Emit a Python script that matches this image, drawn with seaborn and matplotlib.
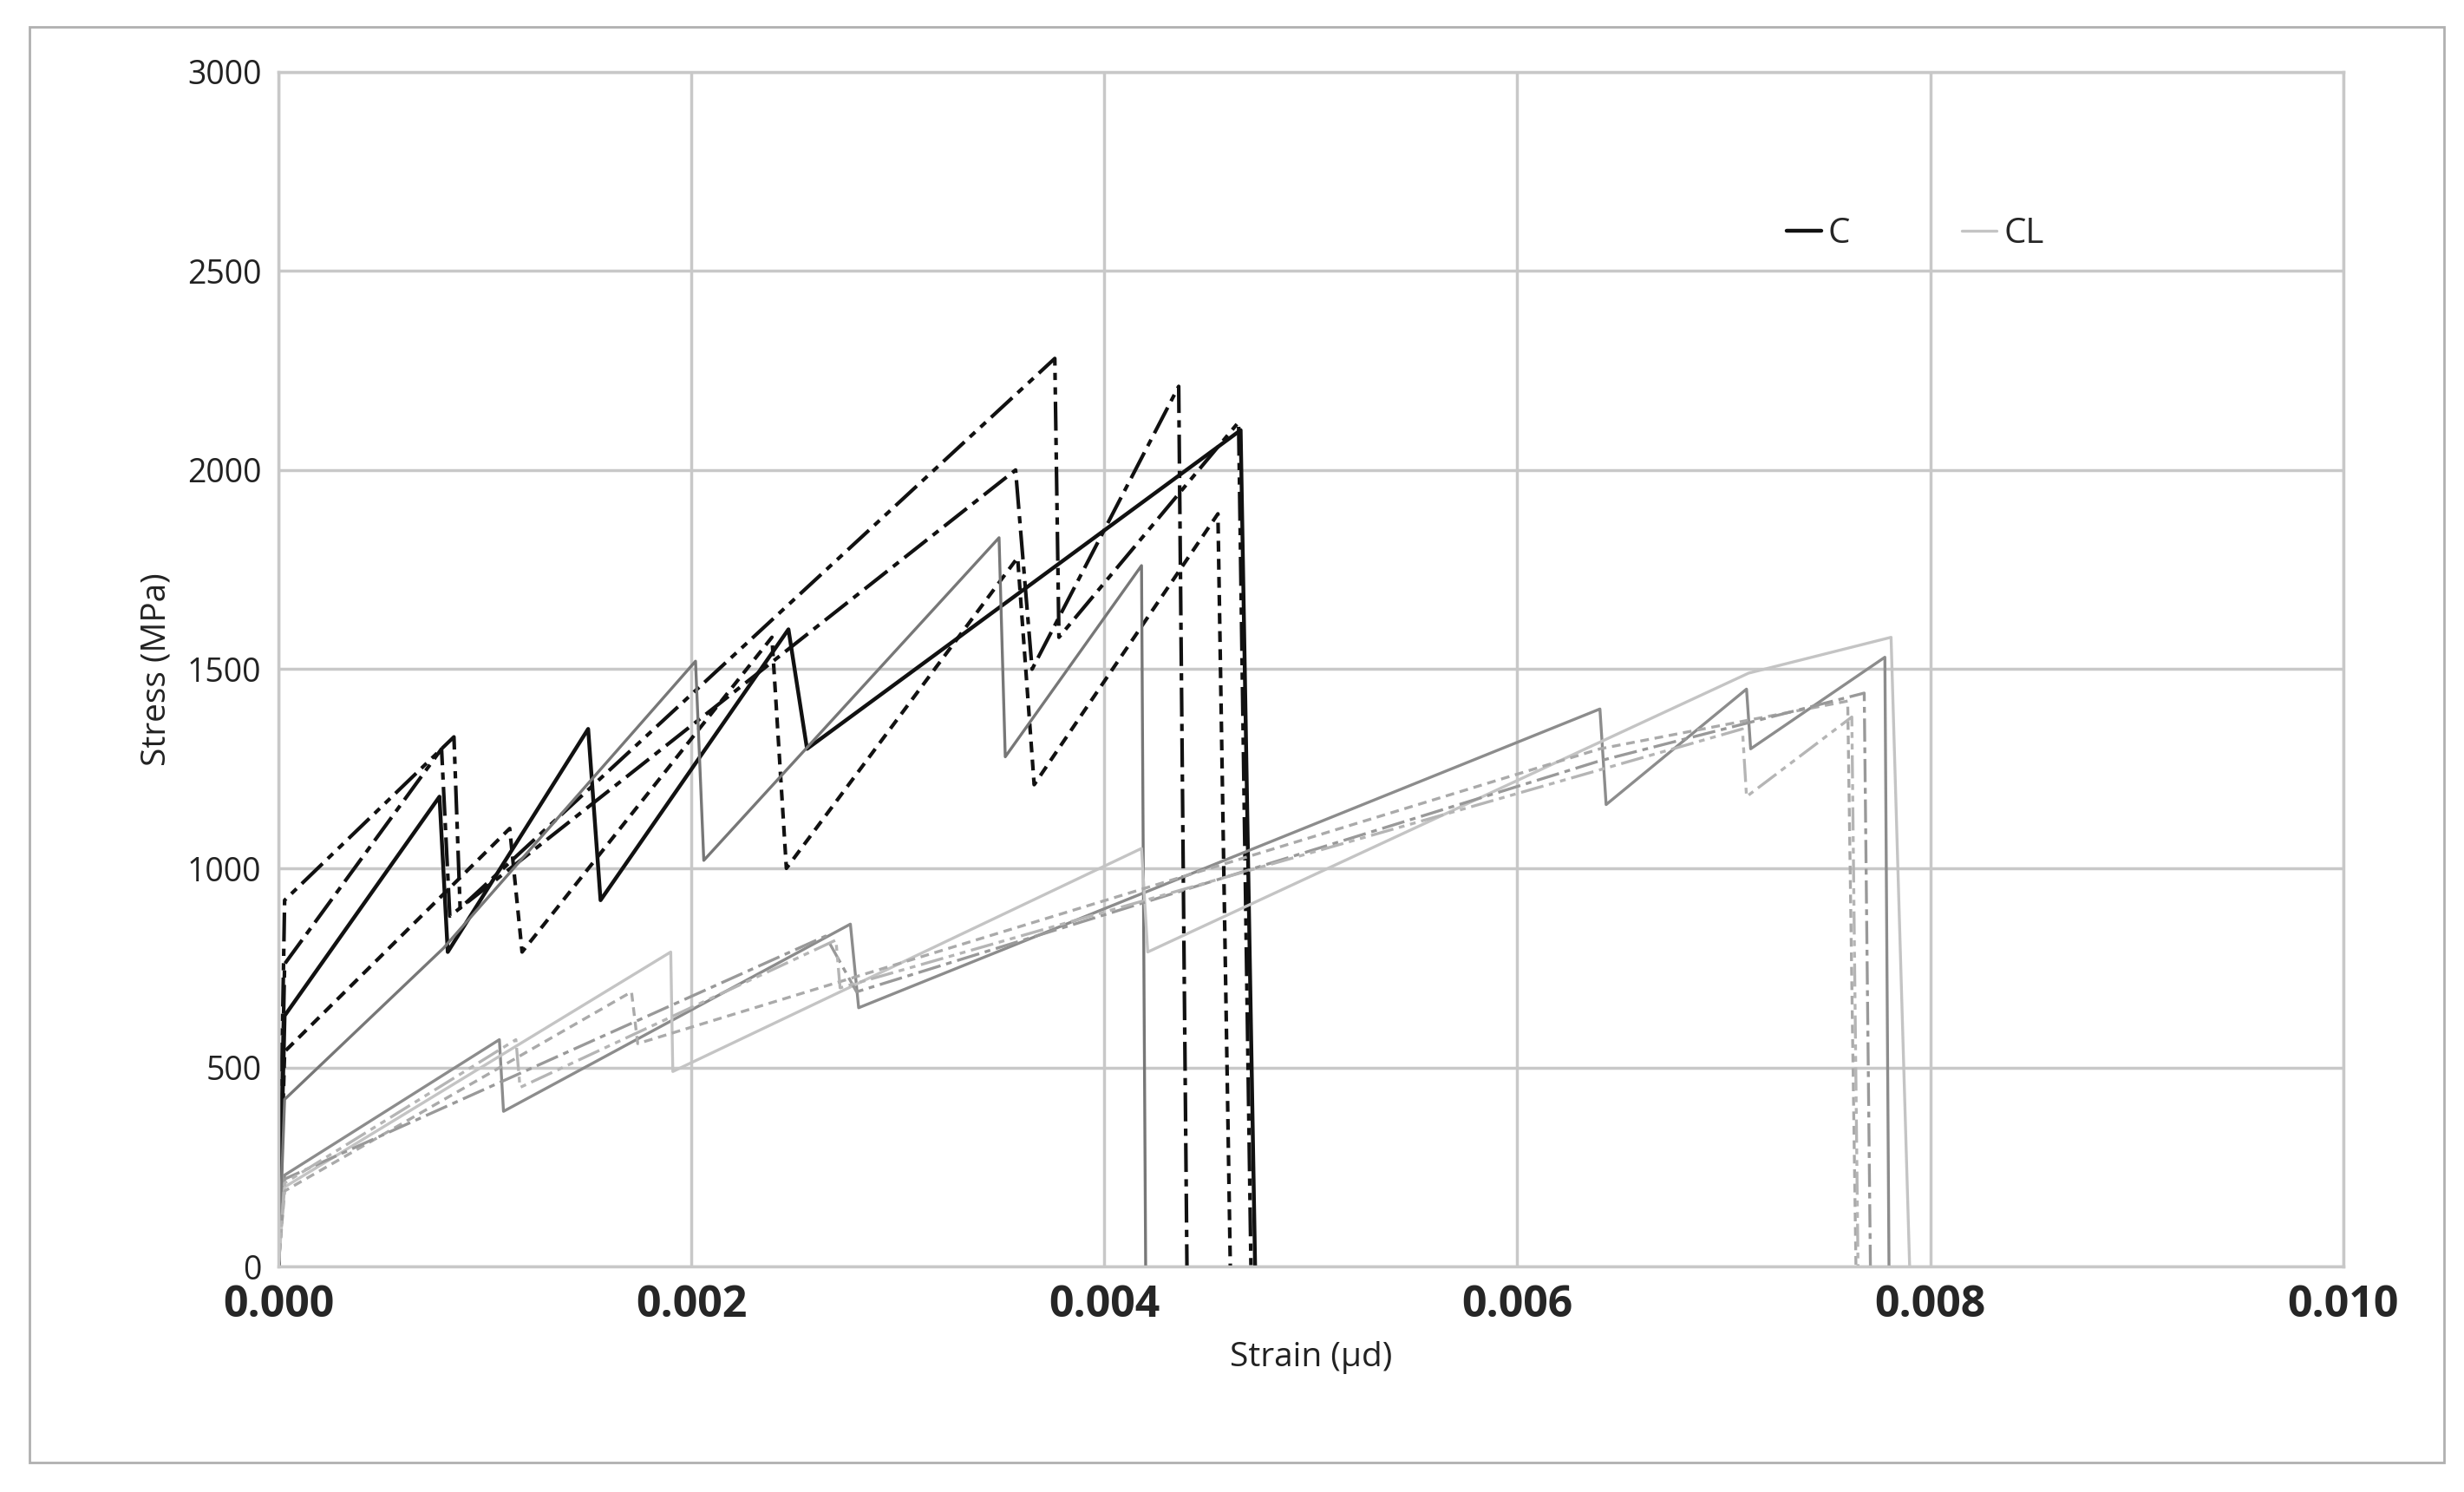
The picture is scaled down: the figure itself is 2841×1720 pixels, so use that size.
import matplotlib
matplotlib.use('Agg')
import matplotlib.pyplot as plt
import pandas as pd
import seaborn as sns

# C specimens (strain, stress)
c1_x = [0, 0.00003, 0.00078, 0.00082, 0.00150, 0.00156, 0.00247, 0.00256, 0.00466, 0.00473]
c1_y = [0, 630, 1180, 790, 1350, 920, 1600, 1300, 2100, 0]
c2_x = [0, 0.00003, 0.00112, 0.00118, 0.00239, 0.00246, 0.00358, 0.00366, 0.00455, 0.00461]
c2_y = [0, 540, 1100, 790, 1580, 1000, 1780, 1210, 1890, 0]
c3_x = [0, 0.00003, 0.00079, 0.00083, 0.00357, 0.00365, 0.00436, 0.00440]
c3_y = [0, 760, 1300, 880, 2000, 1500, 2210, 0]
c4_x = [0, 0.00003, 0.00085, 0.00088, 0.00376, 0.00378, 0.00465, 0.00471]
c4_y = [0, 920, 1330, 900, 2280, 1580, 2120, 0]
c5_x = [0, 0.00003, 0.00080, 0.00202, 0.00206, 0.00349, 0.00352, 0.00418, 0.00420]
c5_y = [0, 420, 800, 1520, 1020, 1830, 1280, 1760, 0]

# CL specimens
cl1_x = [0, 0.00003, 0.00107, 0.00109, 0.00277, 0.00281, 0.00640, 0.00643, 0.00711, 0.00713, 0.00778, 0.00780]
cl1_y = [0, 230, 570, 390, 860, 650, 1400, 1160, 1450, 1300, 1530, 0]
cl2_x = [0, 0.00003, 0.00190, 0.00191, 0.00418, 0.00421, 0.00712, 0.00781, 0.00790]
cl2_y = [0, 200, 790, 490, 1050, 790, 1490, 1580, 0]
cl3_x = [0, 0.00003, 0.00171, 0.00174, 0.00640, 0.00760, 0.00764]
cl3_y = [0, 190, 690, 560, 1300, 1420, 0]
cl4_x = [0, 0.00003, 0.00265, 0.00280, 0.00640, 0.00768, 0.00771]
cl4_y = [0, 220, 830, 690, 1270, 1440, 0]
cl5_x = [0, 0.00003, 0.00115, 0.00117, 0.00270, 0.00272, 0.00709, 0.00711, 0.00762, 0.00765]
cl5_y = [0, 210, 570, 450, 820, 700, 1350, 1180, 1380, 0]

series = [
    ('C', c1_x, c1_y, '#111111', '-', 3.2),
    (None, c2_x, c2_y, '#111111', (0, (3, 2)), 3.0),
    (None, c3_x, c3_y, '#111111', (0, (8, 2, 2, 2)), 3.0),
    (None, c4_x, c4_y, '#111111', (0, (8, 2, 2, 2, 2, 2)), 3.0),
    (None, c5_x, c5_y, '#777777', '-', 2.4),
    (None, cl1_x, cl1_y, '#8c8c8c', '-', 2.4),
    ('CL', cl2_x, cl2_y, '#c4c4c4', '-', 2.4),
    (None, cl3_x, cl3_y, '#aaaaaa', (0, (3, 2)), 2.4),
    (None, cl4_x, cl4_y, '#999999', (0, (8, 2, 2, 2)), 2.4),
    (None, cl5_x, cl5_y, '#b5b5b5', (0, (8, 2, 2, 2, 2, 2)), 2.4),
]

sns.set_style('white')
plt.rcParams['font.family'] = ['Open Sans', 'DejaVu Sans']

fig = plt.figure(figsize=(28.41, 17.2), dpi=100)
ax = fig.add_axes([0.113, 0.151, 0.838, 0.801])

for label, xs, ys, color, ls, lw in series:
    df = pd.DataFrame({'strain': xs, 'stress': ys})
    sns.lineplot(data=df, x='strain', y='stress', sort=False, estimator=None,
                 color=color, linestyle=ls, linewidth=lw, ax=ax, label=label)

ax.set_xlim(0, 0.010)
ax.set_ylim(0, 3000)
ax.set_xticks([0, 0.002, 0.004, 0.006, 0.008, 0.010])
ax.set_xticklabels(['0.000', '0.002', '0.004', '0.006', '0.008', '0.010'],
                   fontsize=36, fontweight='bold')
ax.set_yticks(range(0, 3001, 500))
ax.tick_params(axis='y', labelsize=27, colors='#222222')
ax.tick_params(length=0, pad=14)
ax.grid(True, color='#c8c8c8', linewidth=2.5)
for s in ax.spines.values():
    s.set_color('#c8c8c8')
    s.set_linewidth(2.5)
ax.set_xlabel('Strain (µd)', fontsize=28, labelpad=12, color='#222222')
ax.set_ylabel('Stress (MPa)', fontsize=28, labelpad=12, color='#222222')

ax.legend(loc='upper left', bbox_to_anchor=(0.715, 0.905), ncol=2, frameon=False,
          fontsize=29, handlelength=1.0, handletextpad=0.2, columnspacing=3.2)

# outer frame
fig.patches.append(plt.Rectangle((0.012, 0.02), 0.98, 0.962, transform=fig.transFigure,
                                 fill=False, edgecolor='#b0b0b0', linewidth=2))

fig.savefig('out.png', dpi=100)
